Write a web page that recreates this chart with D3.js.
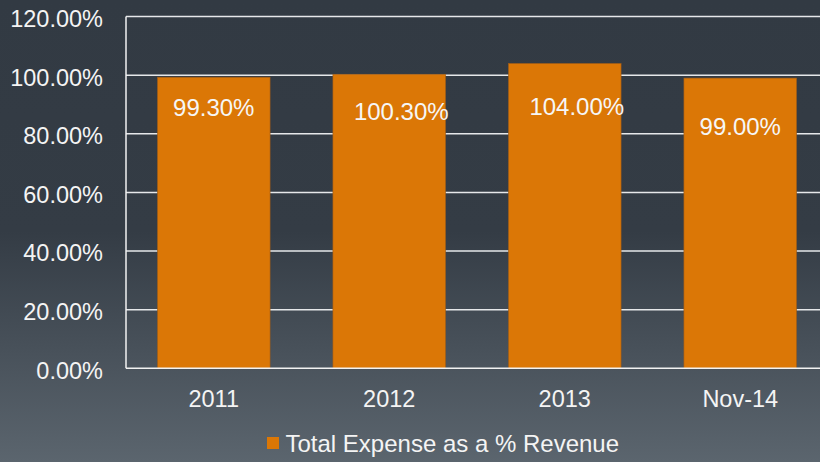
<!DOCTYPE html>
<html><head><meta charset="utf-8">
<script src="https://cdn.jsdelivr.net/npm/d3@7"></script>
<style>html,body{margin:0;padding:0;overflow:hidden;background:#323a43}</style>
</head><body>
<script>
const categories = ["2011", "2012", "2013", "Nov-14"];
const values = [99.3, 100.3, 104.0, 99.0];
const valueLabels = ["99.30%", "100.30%", "104.00%", "99.00%"];
const yTicks = [0, 20, 40, 60, 80, 100, 120];
const seriesName = "Total Expense as a % Revenue";

(function () {
const W = 820, H = 462;
const svg = d3.select("body").append("svg").attr("width", W).attr("height", H)
  .style("font-family", "'Liberation Sans', Arial, sans-serif");

const defs = svg.append("defs");
const g = defs.append("linearGradient").attr("id", "bg").attr("x1", 0).attr("y1", 0).attr("x2", 0).attr("y2", 1);
g.append("stop").attr("offset", "0").attr("stop-color", "#323a43");
g.append("stop").attr("offset", "0.5").attr("stop-color", "#343c45");
g.append("stop").attr("offset", "1").attr("stop-color", "#5b656e");
svg.append("rect").attr("width", W).attr("height", H).attr("fill", "url(#bg)");

const pL = 126, pR = 828, pT = 16.5, pB = 368.3;
const x = d3.scaleBand().domain(categories).range([pL, pR]).paddingInner(0.358).paddingOuter(0.179);
const y = d3.scaleLinear().domain([0, 120]).range([pB, pT]);

// gridlines
svg.append("g").selectAll("line").data(yTicks.filter(d => d > 0)).join("line")
  .attr("x1", pL).attr("x2", W).attr("y1", d => y(d)).attr("y2", d => y(d))
  .attr("stroke", "#e6e8ea").attr("stroke-width", 1.5);

// bars
svg.append("g").selectAll("rect").data(values).join("rect")
  .attr("x", (d, i) => x(categories[i]))
  .attr("width", x.bandwidth())
  .attr("y", d => y(d))
  .attr("height", d => y(0) - y(d))
  .attr("fill", "#db7706")
  .attr("stroke", "#9a5a1a").attr("stroke-width", 0.6);

// axes lines
svg.append("line").attr("x1", pL).attr("x2", pL).attr("y1", pT).attr("y2", pB)
  .attr("stroke", "#f2f2f2").attr("stroke-width", 1.5);
svg.append("line").attr("x1", pL).attr("x2", W).attr("y1", pB).attr("y2", pB)
  .attr("stroke", "#f2f2f2").attr("stroke-width", 1.5);

// y axis labels
const yAxis = d3.axisLeft(y).tickValues(yTicks).tickFormat(d => d.toFixed(2) + "%").tickSize(0).tickPadding(23);
const ya = svg.append("g").attr("transform", `translate(${pL},0)`).call(yAxis);
ya.select(".domain").remove();
ya.selectAll("text").attr("fill", "#f4f4f4").attr("font-size", 23.5).attr("font-family", "'Liberation Sans', Arial, sans-serif").attr("dy", "0.42em");

// x axis labels
const xAxis = d3.axisBottom(x).tickSize(0).tickPadding(0);
const xa = svg.append("g").attr("transform", `translate(0,${pB})`).call(xAxis);
xa.select(".domain").remove();
xa.selectAll("text").attr("fill", "#f4f4f4").attr("font-size", 23.5).attr("font-family", "'Liberation Sans', Arial, sans-serif")
  .attr("dy", 0).attr("y", 38.5);

// value labels (manually nudged as in the original)
const nudgeX = [0, 12, 12, 0];
const nudgeY = [30.5, 37, 42.5, 48];
svg.append("g").selectAll("text").data(values).join("text")
  .attr("x", (d, i) => x(categories[i]) + x.bandwidth() / 2 + nudgeX[i])
  .attr("y", (d, i) => y(d) + nudgeY[i])
  .attr("dy", "0.36em")
  .attr("text-anchor", "middle")
  .attr("fill", "#f6f6f6").attr("font-size", 24)
  .text((d, i) => valueLabels[i]);

// legend
const lg = svg.append("g").attr("transform", "translate(267,437)");
lg.append("rect").attr("width", 12).attr("height", 12).attr("fill", "#db7706");
lg.append("text").attr("x", 18.5).attr("y", 6).attr("dy", "0.36em").attr("fill", "#f4f4f4").attr("font-size", 24).text(seriesName);
})();
</script>
</body></html>
